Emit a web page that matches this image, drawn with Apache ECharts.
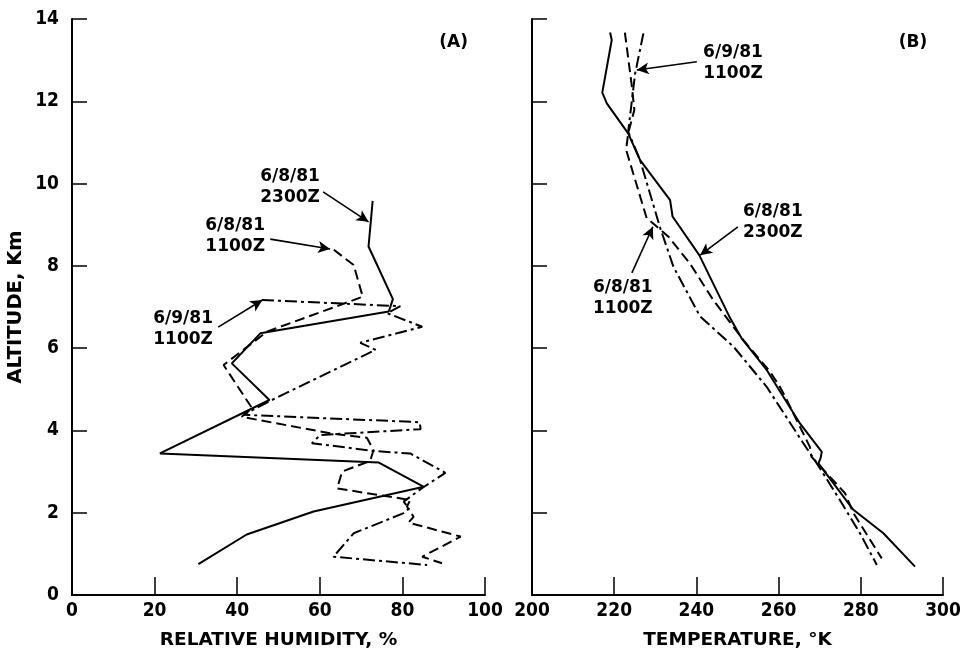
<!DOCTYPE html>
<html><head><meta charset="utf-8">
<script src="https://cdn.jsdelivr.net/npm/echarts@6/dist/echarts.min.js"></script>
<style>html,body{margin:0;padding:0;background:#fff}#c{width:960px;height:655px}</style>
</head><body><div id="c"></div><script>
// Panel A: relative humidity (%) vs altitude (km), pairs [RH, altitude]
const rh_0608_2300 = [[72.8,9.58],[71.8,8.47],[77.7,7.19],[76.7,6.89],[45.6,6.36],[38.7,5.63],[47.8,4.74],[21.3,3.44],[74.3,3.22],[85.2,2.63],[58.5,2.03],[42.3,1.47],[30.6,0.75]];
const rh_0608_1100 = [[63.4,8.39],[68.2,8.02],[70.4,7.25],[47.2,6.4],[36.7,5.59],[43.6,4.54],[41.1,4.33],[62.5,3.93],[71.4,3.82],[73.0,3.52],[72.2,3.26],[65.4,3.0],[64.2,2.59],[81.9,2.31],[81.1,2.15],[82.7,1.9],[81.5,1.76],[94.1,1.42],[84.8,0.93],[89.6,0.77]];
const rh_0609_1100 = [[46,7.17],[79.5,7.02],[76.3,6.85],[84.8,6.52],[69.8,6.13],[73.5,5.96],[47.6,4.7],[41.5,4.38],[84.2,4.2],[84.4,4.03],[60.1,3.89],[58.1,3.69],[73.0,3.5],[81.9,3.44],[90.4,2.97],[84.8,2.6],[80.3,2.27],[81.6,2.1],[80.3,1.99],[68.2,1.5],[63.3,0.93],[86.0,0.73]];
// Panel B: temperature (K) vs altitude (km), pairs [T, altitude]
const t_0608_2300 = [[219.0,13.67],[219.4,13.49],[217.1,12.21],[218.2,11.95],[223.4,11.22],[226.3,10.57],[233.6,9.6],[234.2,9.2],[240.7,8.26],[248.2,6.73],[251.0,6.24],[257.1,5.47],[265.2,4.17],[270.5,3.48],[270.2,3.32],[269.7,3.2],[278.2,2.07],[285.5,1.5],[293.2,0.69]];
const t_0608_1100 = [[222.6,13.67],[224.3,12.36],[224.9,11.79],[223.4,11.22],[222.9,10.82],[227.9,9.16],[229.5,9.03],[233.2,8.71],[238.4,8.06],[244.1,7.17],[251.4,6.2],[257.9,5.43],[260.3,5.06],[261.6,4.82],[267.6,3.6],[268.0,3.36],[276.2,2.47],[278.2,1.99],[285.1,0.89]];
const t_0609_1100 = [[227.1,13.65],[225.1,12.68],[223.4,11.26],[226.3,10.57],[231.1,8.95],[234.4,7.98],[240.9,6.77],[249.0,6.04],[257.1,5.06],[266.0,3.69],[269.3,3.2],[274.9,2.31],[279.8,1.5],[283.9,0.73]];

const rhRange = [0, 100, 20];
const tRange = [200, 300, 20];
const altRange = [0, 14, 2];
const rhName = 'RELATIVE HUMIDITY, %';
const tName = 'TEMPERATURE, °K';
const altName = 'ALTITUDE, Km';

// Annotations: [gridIndex, x, y, text]
const labelsA = [[0,52.8,9.92,'6/8/81\n2300Z'],[0,39.5,8.73,'6/8/81\n1100Z'],[0,26.9,6.47,'6/9/81\n1100Z'],[0,92.4,13.42,'(A)']];
const labelsB = [[1,248.9,12.93,'6/9/81\n1100Z'],[1,258.6,9.07,'6/8/81\n2300Z'],[1,222.1,7.22,'6/8/81\n1100Z'],[1,292.7,13.42,'(B)']];
// Arrows: [from, to] in data coords
const arrowsA = [[[60.8,9.80],[71.8,9.07]],[[48.0,8.65],[62.5,8.41]],[[35.4,6.51],[46.1,7.17]]];
const arrowsB = [[[240.1,12.96],[225.5,12.76]],[[250.1,8.95],[240.9,8.26]],[[224.3,7.83],[229.4,8.95]]];

const FONT = '"DejaVu Sans", "Liberation Sans", Arial, sans-serif';
const NARROW = '"Liberation Sans Narrow", "DejaVu Sans Condensed", "Liberation Sans", Arial, sans-serif';
const chart = echarts.init(document.getElementById('c'), null, {renderer:'canvas'});

function xAx(idx, r, name) {
  return {
    type:'value', gridIndex:idx, min:r[0], max:r[1], interval:r[2],
    name:name, nameLocation:'middle', nameGap:36,
    nameTextStyle:{color:'#000', fontFamily:FONT, fontWeight:'bold', fontSize:18.5},
    axisLine:{show:true, lineStyle:{color:'#000', width:2}},
    axisTick:{show:true, inside:true, length:18, lineStyle:{color:'#000', width:1.5}},
    axisLabel:{show:true, color:'#000', fontFamily:NARROW, fontWeight:'bold', fontSize:19, margin:7},
    splitLine:{show:false}
  };
}
function yAx(idx, showLabels) {
  return {
    type:'value', gridIndex:idx, min:altRange[0], max:altRange[1], interval:altRange[2],
    name: showLabels ? altName : '', nameLocation:'middle', nameGap:46,
    nameTextStyle:{color:'#000', fontFamily:FONT, fontWeight:'bold', fontSize:19.5},
    axisLine:{show:true, lineStyle:{color:'#000', width:2}},
    axisTick:{show:true, inside:true, length:15, lineStyle:{color:'#000', width:1.5}},
    axisLabel:{show:showLabels, color:'#000', fontFamily:NARROW, fontWeight:'bold', fontSize:19, margin:13},
    splitLine:{show:false}
  };
}
function arrowMark(list) {
  return {
    silent:true, symbol:['none','arrow'], symbolSize:[9,12], animation:false,
    label:{show:false},
    lineStyle:{color:'#000', width:1.6, type:'solid'},
    data:list.map(a => [{coord:a[0]},{coord:a[1]}])
  };
}
const solid = {color:'#000', width:2, type:'solid'};
const dashed = {color:'#000', width:2, type:[10,5]};
const dashdot = {color:'#000', width:2, type:[12,4,3,4]};
function ser(idx, data, style, marks) {
  const s = {type:'line', xAxisIndex:idx, yAxisIndex:idx, data:data, symbol:'none', showSymbol:false,
    lineStyle:style, silent:true, animation:false};
  if (marks) s.markLine = marks;
  return s;
}

chart.setOption({
  animation:false,
  backgroundColor:'#fff',
  grid:[
    {left:72, right:475, top:19, bottom:60, containLabel:false, outerBoundsMode:'none'},
    {left:532, right:17, top:19, bottom:60, containLabel:false, outerBoundsMode:'none'}
  ],
  xAxis:[xAx(0, rhRange, rhName), xAx(1, tRange, tName)],
  yAxis:[yAx(0, true), yAx(1, false)],
  series:[
    ser(0, rh_0608_2300, solid, arrowMark(arrowsA)),
    ser(0, rh_0608_1100, dashed),
    ser(0, rh_0609_1100, dashdot),
    ser(1, t_0608_2300, solid, arrowMark(arrowsB)),
    ser(1, t_0608_1100, dashed),
    ser(1, t_0609_1100, dashdot)
  ]
});

const graphics = labelsA.concat(labelsB).map(l => {
  const p = chart.convertToPixel({gridIndex:l[0]}, [l[1], l[2]]);
  return {type:'text', x:p[0], y:p[1], silent:true,
    style:{text:l[3], fill:'#000', font:'bold 17px ' + FONT, align:'center', verticalAlign:'middle', lineHeight:21}};
});
chart.setOption({graphic:graphics});
</script></body></html>
